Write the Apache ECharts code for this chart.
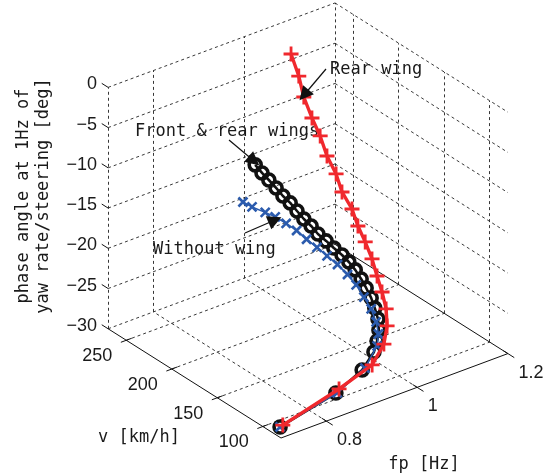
<!DOCTYPE html>
<html>
<head>
<meta charset="utf-8">
<script src="https://cdn.jsdelivr.net/npm/echarts@6/dist/echarts.min.js"></script>
<style>
  html, body { margin: 0; padding: 0; background: #fff; }
  #chart { width: 543px; height: 476px; }
</style>
</head>
<body>
<div id="chart"></div>
<script>
// axis ticks
var fpTicks = [0.8, 1, 1.2];
var speedTicks = [100, 150, 200, 250];
var phaseTicks = [-30, -25, -20, -15, -10, -5, 0];

// Rear wing
var rearSpeed = [90, 100, 110, 120, 128, 136, 144, 152, 160, 168, 176, 184, 192, 200, 208, 216, 224, 232, 240, 248];
var rearFp = [0.724, 0.868, 0.961, 1.007, 1.030, 1.044, 1.051, 1.056, 1.061, 1.062, 1.062, 1.065, 1.059, 1.062, 1.058, 1.059, 1.057, 1.055, 1.060, 1.059];
var rearPhase = [-29.61, -28.86, -28.54, -27.62, -26.43, -25.18, -23.79, -22.48, -21.04, -19.51, -18.11, -16.63, -14.96, -13.35, -11.61, -9.71, -8.01, -5.93, -4.00, -1.81];

// Front & rear wings
var bothSpeed = [90, 100, 110, 118, 124, 130, 136, 142, 148, 154, 160, 166, 172, 178, 184, 190, 196, 202, 208, 214, 220, 226, 232, 238, 244, 250];
var bothFp = [0.718, 0.861, 0.939, 0.981, 1.000, 1.016, 1.026, 1.031, 1.035, 1.036, 1.037, 1.036, 1.034, 1.031, 1.025, 1.020, 1.014, 1.011, 1.007, 1.004, 1.001, 0.997, 0.994, 0.990, 0.987, 0.984];
var bothPhase = [-29.72, -29.22, -28.70, -27.92, -27.38, -26.78, -26.05, -25.23, -24.48, -23.69, -23.02, -22.30, -21.71, -21.20, -20.64, -20.08, -19.52, -18.89, -18.37, -17.74, -17.10, -16.59, -15.95, -15.31, -14.80, -14.16];

// Without wing
var noneSpeed = [90, 100, 110, 120, 128, 136, 144, 152, 160, 168, 176, 184, 192, 200, 208, 216, 224, 232, 240, 248];
var noneFp = [0.718, 0.864, 0.945, 0.992, 1.011, 1.022, 1.027, 1.027, 1.026, 1.023, 1.017, 1.010, 1.004, 0.997, 0.991, 0.984, 0.976, 0.970, 0.957, 0.953];
var nonePhase = [-29.72, -29.27, -28.59, -27.54, -27.03, -26.33, -25.39, -24.49, -23.53, -22.74, -21.95, -21.31, -20.68, -20.11, -19.46, -19.01, -18.60, -18.49, -18.11, -17.98];

var fpRange = [0.7, 1.2];
var speedRange = [80, 270];
var phaseRange = [-30, 0];

// 3d view (matlab style az/el), box edge lengths in px, front-bottom corner
var az = -37.5 * Math.PI / 180;
var el = 29 * Math.PI / 180;
var boxLen = [286, 284, 276];
var origin = [281, 438];

var FONT = '17px "DejaVu Sans Mono"';
var TICK_FONT = '18px "Liberation Sans"';
var INK = '#1a1a1a';

function project(fp, v, ph) {
    var nx = (fp - fpRange[0]) / (fpRange[1] - fpRange[0]);
    var ny = (v - speedRange[0]) / (speedRange[1] - speedRange[0]);
    var nz = (ph - phaseRange[0]) / (phaseRange[1] - phaseRange[0]);
    var sx = origin[0] + Math.cos(az) * boxLen[0] * nx + Math.sin(az) * boxLen[1] * ny;
    var sy = origin[1] - (-Math.sin(el) * Math.sin(az) * boxLen[0] * nx
        + Math.sin(el) * Math.cos(az) * boxLen[1] * ny
        + Math.cos(el) * boxLen[2] * nz);
    return [sx, sy];
}

function curve(speed, fp, phase) {
    return speed.map(function (v, i) {
        return project(fp[i], v, phase[i]);
    });
}

var dashed = [];
var solid = [];
function seg(list, a, b) {
    list.push({coords: [project(a[0], a[1], a[2]), project(b[0], b[1], b[2])]});
}

var f0 = fpRange[0], f1 = fpRange[1];
var v0 = speedRange[0], v1 = speedRange[1];
var p0 = phaseRange[0], p1 = phaseRange[1];

// back wall (v = max)
[f0].concat(fpTicks).forEach(function (f) { seg(dashed, [f, v1, p0], [f, v1, p1]); });
phaseTicks.forEach(function (p) { seg(dashed, [f0, v1, p], [f1, v1, p]); });
// side wall (fp = max)
speedTicks.forEach(function (v) { seg(dashed, [f1, v, p0], [f1, v, p1]); });
phaseTicks.forEach(function (p) { if (p > p0) seg(dashed, [f1, v1, p], [f1, v0, p]); });
// floor
fpTicks.forEach(function (f) { if (f < f1) seg(dashed, [f, v0, p0], [f, v1, p0]); });
speedTicks.forEach(function (v) { seg(dashed, [f0, v, p0], [f1, v, p0]); });

// axis lines + ticks
seg(solid, [f0, v0, p0], [f0, v1, p0]);
seg(solid, [f0, v0, p0], [f1, v0, p0]);
seg(solid, [f1, v0, p0], [f1, v1, p0]);
speedTicks.forEach(function (v) { seg(solid, [f0 - 0.012, v, p0], [f0 + 0.012, v, p0]); });
fpTicks.forEach(function (f) { seg(solid, [f, v0 - 7, p0], [f, v0 + 5, p0]); });
phaseTicks.forEach(function (p) { seg(solid, [f0, v1, p], [f0, v1 + 7, p]); });

function txt(x, y, s, align, font) {
    return {
        type: 'text', x: x, y: y, silent: true,
        style: {text: s, font: font || FONT, fill: INK, align: align || 'left', verticalAlign: 'middle'}
    };
}
function fmtPhase(t) {
    return t < 0 ? '\u2212' + (-t) : String(t);
}

var graphics = [];
phaseTicks.forEach(function (t) {
    var p = project(f0, v1, t);
    graphics.push(txt(p[0] - 11, p[1] - 3, fmtPhase(t), 'right', TICK_FONT));
});
speedTicks.forEach(function (t) {
    var p = project(f0, t, p0);
    graphics.push(txt(p[0] - 29, p[1] + 16, String(t), 'center', TICK_FONT));
});
fpTicks.forEach(function (t) {
    var p = project(t, v0, p0);
    graphics.push(txt(p[0] + 10.5, p[1] + 19, String(t), 'left', TICK_FONT));
});
graphics.push(txt(139, 438, 'v [km/h]', 'center'));
graphics.push(txt(424, 465, 'fp [Hz]', 'center'));
graphics.push({
    type: 'text', x: 34, y: 196, rotation: Math.PI / 2, silent: true,
    style: {
        text: 'phase angle at 1Hz of\nyaw rate/steering [deg]',
        font: FONT, fill: INK, align: 'center', verticalAlign: 'middle', lineHeight: 20
    }
});
graphics.push(txt(330, 70, 'Rear wing'));
graphics.push(txt(135, 132, 'Front & rear wings'));
graphics.push(txt(153, 250, 'Without wing'));

// annotation arrows (tail -> tip, px)
var arrows = [
    [[326, 69], [304, 95]],
    [[229, 140], [254, 161]],
    [[245, 233], [275, 220]]
];

var chart = echarts.init(document.getElementById('chart'));
var option = {
    animation: false,
    backgroundColor: '#fff',
    grid: {left: 0, right: 0, top: 0, bottom: 0},
    xAxis: {type: 'value', min: 0, max: 543, show: false},
    yAxis: {type: 'value', min: 0, max: 476, inverse: true, show: false},
    graphic: graphics,
    series: [
        {
            type: 'lines', coordinateSystem: 'cartesian2d', silent: true, z: 1,
            lineStyle: {color: '#222', width: 0.9, type: [3, 3], opacity: 1},
            data: dashed
        },
        {
            type: 'lines', coordinateSystem: 'cartesian2d', silent: true, z: 1,
            lineStyle: {color: '#111', width: 1, opacity: 1},
            data: solid
        },
        {
            name: 'Front & rear wings', type: 'line', silent: true, z: 3,
            data: curve(bothSpeed, bothFp, bothPhase),
            symbol: 'circle', symbolSize: 12,
            lineStyle: {color: '#111', width: 2.6},
            itemStyle: {color: 'rgba(0,0,0,0)', borderColor: '#111', borderWidth: 3.6}
        },
        {
            name: 'Without wing', type: 'line', silent: true, z: 4,
            data: curve(noneSpeed, noneFp, nonePhase),
            symbol: 'path://M0 0L10 10M10 0L0 10', symbolSize: 9,
            lineStyle: {color: '#2b5bad', width: 1.5},
            itemStyle: {color: 'rgba(0,0,0,0)', borderColor: '#2b5bad', borderWidth: 2.6}
        },
        {
            name: 'Rear wing', type: 'line', silent: true, z: 5,
            data: curve(rearSpeed, rearFp, rearPhase),
            symbol: 'path://M0 6H12M6 0V12', symbolSize: 15,
            lineStyle: {color: '#f0282d', width: 3.4},
            itemStyle: {color: 'rgba(0,0,0,0)', borderColor: '#f0282d', borderWidth: 2.8}
        },
        {
            type: 'lines', coordinateSystem: 'cartesian2d', silent: true, z: 6,
            symbol: ['none', 'triangle'], symbolSize: 14,
            lineStyle: {color: '#111', width: 1.2, opacity: 1},
            data: arrows.map(function (a) { return {coords: a}; })
        }
    ]
};
chart.setOption(option);
</script>
</body>
</html>
